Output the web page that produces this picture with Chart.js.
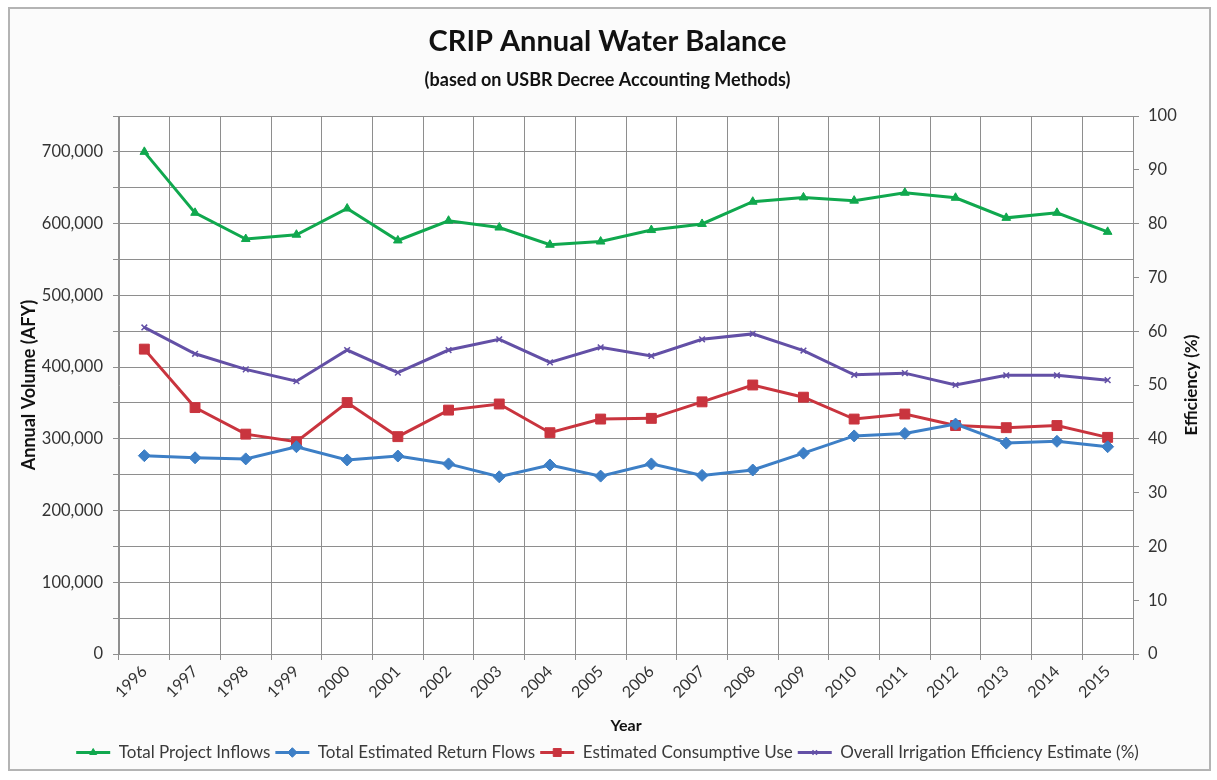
<!DOCTYPE html>
<html><head><meta charset="utf-8">
<script src="https://cdn.jsdelivr.net/npm/chart.js@4.4.1/dist/chart.umd.min.js"></script>
<style>html,body{margin:0;padding:0;background:#fff;} #wrap{position:relative;width:1217px;height:780px;} canvas{display:block;} #dbg{position:absolute;left:20px;top:10px;font:12px monospace;color:#f00}</style>
</head><body><div id="wrap"><canvas id="c" width="1217" height="780"></canvas><div id="dbg"></div></div>
<script>
const years = ['1996','1997','1998','1999','2000','2001','2002','2003','2004','2005','2006','2007','2008','2009','2010','2011','2012','2013','2014','2015'];
const totalInflows = [700000, 615000, 578500, 584500, 621000, 576500, 604000, 594500, 570500, 575000, 591000, 599500, 630500, 636500, 632000, 643000, 636000, 608000, 615000, 588500];
const returnFlows = [276500, 273500, 272000, 289000, 270500, 276000, 265000, 247000, 263500, 248000, 265000, 249000, 256500, 280000, 304000, 307500, 320500, 294000, 296500, 289000];
const consumptiveUse = [425000, 343500, 306500, 296000, 350500, 303000, 340000, 348500, 308500, 327500, 328500, 351500, 375000, 358000, 327500, 334500, 318500, 315500, 318500, 302000];
const efficiency = [60.7, 55.8, 52.9, 50.7, 56.5, 52.3, 56.5, 58.5, 54.2, 57.0, 55.4, 58.5, 59.5, 56.4, 51.9, 52.2, 50.0, 51.8, 51.8, 50.9];
const volumeMax = 750000, volumeStep = 50000, volumeLabelStep = 100000;
const effMax = 100, effStep = 10;

const FONT = 'Lato, "Open Sans", sans-serif';
const GRID = '#8e8e8e';
const TXT = '#333';

const frame = {
  id: 'frame',
  beforeDraw(chart) {
    const ctx = chart.ctx, a = chart.chartArea;
    ctx.save();
    ctx.fillStyle = '#fff'; ctx.fillRect(0, 0, chart.width, chart.height);
    ctx.fillStyle = '#fbfbfb'; ctx.strokeStyle = '#b4b4b4'; ctx.lineWidth = 2;
    ctx.fillRect(9, 8, 1201, 762); ctx.strokeRect(9, 8, 1201, 762);
    ctx.fillStyle = '#fff'; ctx.fillRect(a.left, a.top, a.right - a.left, a.bottom - a.top);
    ctx.restore();
  },
  afterDraw(chart) {
    const ctx = chart.ctx, a = chart.chartArea;
    ctx.save();
    ctx.font = 'bold 17px ' + FONT; ctx.fillStyle = '#111';
    ctx.textAlign = 'center'; ctx.textBaseline = 'middle';
    ctx.translate(1192, (a.top + a.bottom) / 2); ctx.rotate(-Math.PI / 2);
    ctx.fillText('Efficiency (%)', 0, 0);
    ctx.restore();
    const lg = chart.legend;
    if (lg && lg.legendHitBoxes) {
      lg.legendHitBoxes.forEach((hb, i) => {
        const ds = chart.data.datasets[i];
        const bw = lg.options.labels.boxWidth;
        ctx.save();
        ctx.fillStyle = ds.borderColor; ctx.strokeStyle = ds.borderColor;
        ctx.lineWidth = ds.pointBorderWidth || 1;
        Chart.helpers.drawPoint(ctx, {pointStyle: ds.pointStyle, radius: ds.pointRadius * 0.8, rotation: 0, borderWidth: ds.pointBorderWidth || 1},
          hb.left + bw / 2, hb.top + hb.height / 2);
        ctx.restore();
      });
    }
  }
};

const chart = new Chart(document.getElementById('c'), {
  type: 'line',
  data: {
    labels: years,
    datasets: [
      {label: 'Total Project Inflows', data: totalInflows, yAxisID: 'y', borderColor: '#10a84e', backgroundColor: '#10a84e', borderWidth: 3, pointStyle: 'triangle', pointRadius: 5, pointBorderWidth: 1, tension: 0},
      {label: 'Total Estimated Return Flows', data: returnFlows, yAxisID: 'y', borderColor: '#3d7fc6', backgroundColor: '#3d7fc6', borderWidth: 3, pointStyle: 'rectRot', pointRadius: 6, pointBorderWidth: 1, tension: 0},
      {label: 'Estimated Consumptive Use', data: consumptiveUse, yAxisID: 'y', borderColor: '#c9343e', backgroundColor: '#c9343e', borderWidth: 3, pointStyle: 'rect', pointRadius: 7, pointBorderWidth: 1, tension: 0},
      {label: 'Overall Irrigation Efficiency Estimate (%)', data: efficiency, yAxisID: 'y1', borderColor: '#6350a6', backgroundColor: '#6350a6', borderWidth: 3, pointStyle: 'crossRot', pointRadius: 4, pointBorderWidth: 1.5, tension: 0}
    ]
  },
  options: {
    responsive: false,
    animation: false,
    layout: {padding: {top: 8, left: 10, right: 12, bottom: 9}},
    plugins: {
      title: {display: true, text: 'CRIP Annual Water Balance', color: '#111', font: {family: FONT, size: 29, weight: 'bold'}, padding: {top: 16.6, bottom: 9.8}},
      subtitle: {display: true, text: '(based on USBR Decree Accounting Methods)', color: '#111', font: {family: FONT, size: 18, weight: 'bold'}, padding: {top: 0, bottom: 25.2}},
      legend: {position: 'bottom', labels: {boxWidth: 34, boxHeight: 3, padding: 5, color: '#3a3a3a', font: {family: FONT, size: 17},
        generateLabels(chart) {
          const items = Chart.defaults.plugins.legend.labels.generateLabels(chart);
          items.forEach(it => { it.lineWidth = 0; it.fillStyle = it.strokeStyle; });
          return items;
        }}},
      tooltip: {enabled: false}
    },
    scales: {
      x: {
        offset: true,
        grid: {offset: true, color: GRID, tickLength: 6, drawTicks: true},
        border: {color: GRID},
        ticks: {minRotation: 45, maxRotation: 45, padding: 2, color: TXT, font: {family: FONT, size: 16}},
        title: {display: true, text: 'Year', color: '#111', font: {family: FONT, size: 16, weight: 'bold'}, padding: {top: 0, bottom: 4}},
        afterFit(s) { s.height = 85; }
      },
      y: {
        position: 'left', min: 0, max: volumeMax,
        grid: {color: GRID, tickLength: 6},
        border: {color: GRID},
        ticks: {stepSize: volumeStep, padding: 10, color: TXT, font: {family: FONT, size: 16.5},
          callback: v => (v % volumeLabelStep === 0 && v < volumeMax) ? v.toLocaleString('en-US') : ''},
        title: {display: true, text: 'Annual Volume (AFY)', color: '#111', font: {family: FONT, size: 18, weight: 'bold'}, padding: {top: 8, bottom: 0}},
        afterFit(s) { s.width = 109; }
      },
      y1: {
        position: 'right', min: 0, max: effMax,
        grid: {drawOnChartArea: false, color: GRID, tickLength: 6},
        border: {color: GRID},
        ticks: {stepSize: effStep, padding: 9, color: TXT, font: {family: FONT, size: 16.5}},
        afterFit(s) { s.width = 1217 - 12 - 1133; }
      }
    }
  },
  plugins: [frame]
});
</script>
</body></html>
